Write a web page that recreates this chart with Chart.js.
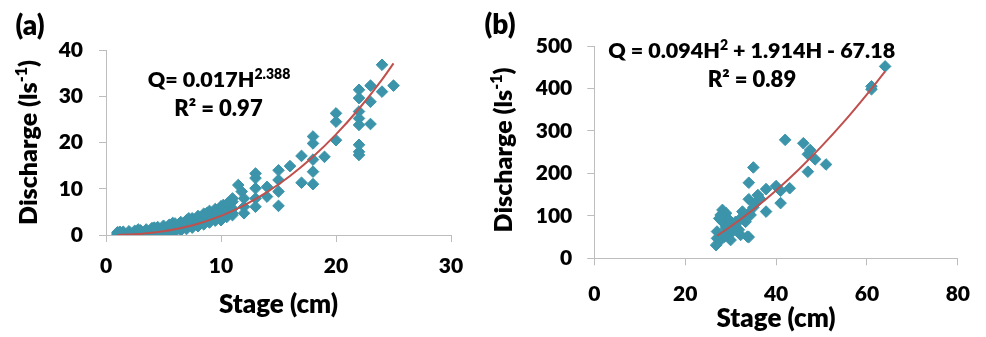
<!DOCTYPE html>
<html><head><meta charset="utf-8">
<script src="https://cdn.jsdelivr.net/npm/chart.js@4.4.0/dist/chart.umd.min.js"></script>
<style>
html,body{margin:0;padding:0;background:#fff;}
#wrap{position:relative;width:986px;height:337px;overflow:hidden;background:#fff;}
.c{position:absolute;top:0;height:337px;}
</style></head><body>
<div id="wrap">
<div class="c" style="left:0;width:493px"><canvas id="ca" width="493" height="337"></canvas></div>
<div class="c" style="left:470px;width:516px"><canvas id="cb" width="516" height="337"></canvas></div>
</div>
<script>
// ---------- Panel (a) data ----------
const stageA = [
  1.0,1.0,1.0, 1.5,1.5,1.5, 2.0,2.0,2.0, 2.5,2.5,2.5, 3.0,3.0,3.0, 3.5,3.5,3.5, 4.0,4.0,4.0,
  4.5,4.5,4.5, 5.0,5.0,5.0, 5.5,5.5,5.5, 6.0,6.0,6.0, 6.5,6.5,6.5, 7.0,7.0,7.0, 7.5,7.5,7.5,
  8.0,8.0,8.0, 8.5,8.5,8.5, 9.0,9.0,9.0, 9.5,9.5,9.5, 10.0,10.0,10.0, 10.5,10.5,10.5, 11.0,11.0,11.0,
  1.2,2.8,4.2,5.8,7.2,8.8,10.2,
  24,25,23,24,22,22,23,22,22,22,23,22,22,22,20,20,20,19,18,18,18,18,18,17,17,16,15,15,15,15,14,14,
  13,13,13,13,13,11.5,11.8,12,12,12,11,10.6,11,10
];
const dischargeA = [
  0.1,0.3,0.6, 0.1,0.4,0.7, 0.1,0.4,0.8, 0.2,0.5,0.9, 0.2,0.6,1.0, 0.3,0.7,1.2, 0.3,0.8,1.5,
  0.4,1.0,1.7, 0.5,1.2,2.0, 0.6,1.4,2.2, 0.8,1.6,2.5, 1.0,1.9,2.8, 1.3,2.2,3.2, 1.6,2.6,3.6,
  1.9,3.0,4.1, 2.3,3.4,4.6, 2.7,3.9,5.2, 3.1,4.3,5.6, 3.4,4.8,6.2, 3.9,5.2,6.7, 4.3,5.7,7.2,
  0.7,1.2,1.6,2.6,3.6,4.8,6.5,
  36.8,32.3,32.3,31.0,31.4,29.6,28.8,26.7,25.2,23.8,24.0,19.5,18.0,17.3,26.3,24.5,20.5,16.9,21.3,19.8,16.3,13.7,11.0,17.1,11.3,14.9,14.0,11.9,9.4,6.3,10.4,8.3,
  13.3,12.3,10.1,7.9,6.1,10.8,9.4,7.9,6.1,4.7,7.9,6.9,4.7,3.2
];
const trendStageA = [1,2,3,4,5,6,7,8,10,12,14,16,18,20,22,24,25];
const trendDischargeA = [0.017,0.089,0.234,0.47,0.79,1.23,1.77,2.44,4.15,6.42,9.27,12.76,16.91,21.75,27.3,33.6,37.1];
const xTicksA = [0, 30, 10];   // min, max, step
const yTicksA = [0, 40, 10];

// ---------- Panel (b) data ----------
const stageB = [64,61,61,42,46,47.5,47,48.6,51,47,35,34,40,37.8,43,41,41,37.8,36,34,35.5,34,33.3,34,32.2,30.4,31.1,29.7,30,
  28.2,29,27.5,28.2,27,27,26.8,27.8,29,29.7,32.6,34.4,32.2,27.8,29.7,31.1,31.8,33.7,28.6,30.4,29,36.5,35];
const dischargeB = [452,405,398,279,271,255,245,233,221,204,214,178,170,163,165,159,130,110,149,139,130,106,86,50,55,67,86,59,43,
  114,106,94,86,63,47,31,43,75,83,110,102,94,102,90,79,67,51,51,63,71,140,120];
const trendStageB = [27,30,35,40,45,50,55,60,64];
const trendDischargeB = [53.0,74.8,115.0,159.8,209.3,263.5,322.4,386.1,440.3];
const xTicksB = [0, 80, 20];
const yTicksB = [0, 500, 100];

const MARK = '#3B94AA', TREND = '#C0504D', AXIS = '#BDBDBD';
const FONT = 'Lato';
const W = '800';

function pts(xs, ys){ return xs.map((x,i)=>({x:x, y:ys[i]})); }

function richWidth(ctx, parts){
  let w = 0;
  for (const p of parts){ ctx.font = W + ' ' + p.s + 'px ' + FONT; w += ctx.measureText(p.t).width; }
  return w;
}
function drawRich(ctx, parts, cx, cy, rot){
  ctx.save();
  ctx.translate(cx, cy);
  if (rot) ctx.rotate(rot);
  ctx.fillStyle = '#000';
  ctx.textBaseline = 'alphabetic';
  ctx.textAlign = 'left';
  const w = richWidth(ctx, parts);
  let x = -w/2;
  const base = parts[0].s * 0.36;
  for (const p of parts){
    ctx.font = W + ' ' + p.s + 'px ' + FONT;
    ctx.fillText(p.t, x, base - (p.up||0));
    x += ctx.measureText(p.t).width;
  }
  ctx.restore();
}

const textPlugin = {
  id: 'texts',
  afterDraw(chart, args, opts){
    const ctx = chart.ctx;
    for (const it of opts.items) drawRich(ctx, it.parts, it.x, it.y, it.rot);
  }
};

function makeChart(id, cfg){
  return new Chart(document.getElementById(id), {
    type: 'scatter',
    data: { datasets: [
      { data: pts(cfg.tx, cfg.ty), showLine: true, borderColor: TREND, borderWidth: 2, pointRadius: 0,
        cubicInterpolationMode: 'monotone', fill: false },
      { data: pts(cfg.sx, cfg.sy), pointStyle: 'rectRot', pointRadius: 5.8, borderWidth: 1,
        backgroundColor: MARK, borderColor: MARK, showLine: false }
    ]},
    options: {
      responsive: false, animation: false, devicePixelRatio: 1,
      layout: { padding: { top: cfg.padTop, right: cfg.padRight, left: 0, bottom: 0 } },
      plugins: { legend: { display: false }, tooltip: { enabled: false }, texts: { items: cfg.texts } },
      scales: {
        x: {
          type: 'linear', min: cfg.xt[0], max: cfg.xt[1],
          ticks: { stepSize: cfg.xt[2], color: '#000', padding: cfg.xPad, font: { family: FONT, size: 21, weight: W } },
          grid: { display: true, drawOnChartArea: false, drawTicks: true, tickLength: 7, color: AXIS },
          border: { display: true, color: AXIS, width: 1 },
          title: { display: true, text: 'Stage (cm)', color: '#000', font: { family: FONT, size: 26, weight: W } ,
                   padding: { top: 0, bottom: cfg.titlePad } },
          afterFit(s){ s.height = cfg.xH; }
        },
        y: {
          type: 'linear', min: cfg.yt[0], max: cfg.yt[1],
          ticks: { stepSize: cfg.yt[2], color: '#000', padding: cfg.yPad, font: { family: FONT, size: 21, weight: W } },
          grid: { display: true, drawOnChartArea: false, drawTicks: true, tickLength: 7, color: AXIS },
          border: { display: true, color: AXIS, width: 1 },
          afterFit(s){ s.width = cfg.yW; }
        }
      }
    },
    plugins: [textPlugin]
  });
}

function yTitle(x, y){
  return { x: x, y: y, rot: -Math.PI/2, parts: [ {t:'Discharge (ls', s:25}, {t:'-1', s:16, up:10}, {t:')', s:25} ] };
}

makeChart('ca', {
  sx: stageA, sy: dischargeA, tx: trendStageA, ty: trendDischargeA, xt: xTicksA, yt: yTicksA,
  padTop: 50, padRight: 42, yW: 106, xH: 102, xPad: 12, yPad: 16, titlePad: 17,
  texts: [
    { x: 30, y: 25, parts: [{t:'(a)', s:28}] },
    yTitle(28, 142.5),
    { x: 219, y: 79, parts: [{t:'Q= 0.017H', s:21.5}, {t:'2.388', s:14, up:8}] },
    { x: 218.5, y: 108, parts: [{t:'R\u00B2 = 0.97', s:22}] }
  ]
});

makeChart('cb', {
  sx: stageB, sy: dischargeB, tx: trendStageB, ty: trendDischargeB, xt: xTicksB, yt: yTicksB,
  padTop: 46, padRight: 26, yW: 124.3, xH: 78.7, xPad: 16, yPad: 15, titlePad: 3,
  texts: [
    { x: 30, y: 24, parts: [{t:'(b)', s:28}] },
    yTitle(33, 150),
    { x: 281.7, y: 50, parts: [{t:'Q = 0.094H', s:21.5}, {t:'2', s:14, up:8}, {t:' + 1.914H - 67.18', s:21.5}] },
    { x: 282, y: 79, parts: [{t:'R\u00B2 = 0.89', s:22}] }
  ]
});
</script>
</body></html>
